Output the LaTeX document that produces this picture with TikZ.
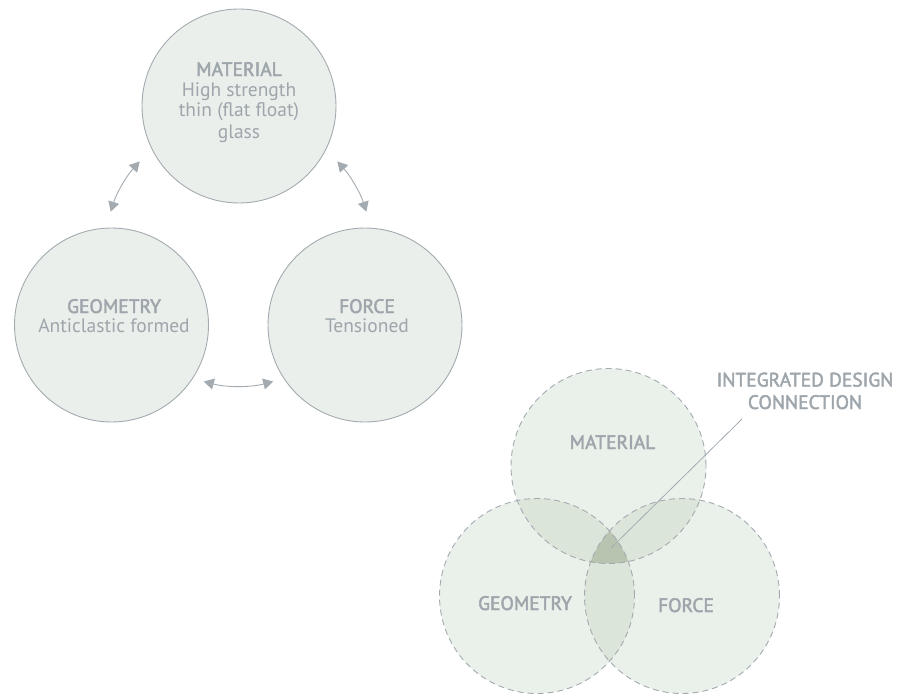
\documentclass[tikz,border=0pt]{standalone}
\usepackage{fontspec}
\setmainfont{PT Sans}
\newcommand\medfont{}
\newcommand\md[1]{\special{pdf:literal direct 2 Tr 0.45 w}#1\special{pdf:literal direct 0 Tr}}
\usetikzlibrary{arrows.meta}
\definecolor{ln}{HTML}{A3ABB1}
\definecolor{tx}{HTML}{9EA6AC}
\definecolor{cf}{HTML}{EBEFEB}
\definecolor{vf}{HTML}{EAF0EA}
\definecolor{pf}{HTML}{DCE5DA}
\definecolor{tf}{HTML}{B8C3B0}
\tikzset{
  bigcirc/.style={circle, draw=ln, fill=cf, line width=0.9pt, minimum size=194pt, inner sep=0pt},
  vcirc/.style={circle, fill=vf, minimum size=195pt, inner sep=0pt},
  vline/.style={draw=ln, line width=0.9pt, dash pattern=on 6pt off 4pt},
  lbl/.style={text=tx, align=center, font=\fontsize{19.5}{20}\selectfont, inner sep=0pt},
  arr/.style={draw=ln, line width=0.9pt, {Triangle[width=11pt,length=10pt]}-{Triangle[width=11pt,length=10pt]}},
  ptr/.style={draw=ln, line width=0.8pt}
}
\begin{document}
\begin{tikzpicture}[x=1pt,y=-1pt]
\useasboundingbox (0,0) rectangle (899,693);
% ---- left diagram ----
\node[bigcirc] (mat) at (239,106) {};
\node[bigcirc] (geo) at (111.5,325) {};
\node[bigcirc] (frc) at (365,325) {};
\node[lbl, anchor=base] (matt) at (239,138) {\md{MATERIAL}\\High strength\\thin (flat float)\\[2pt]glass};
\node[lbl, anchor=base, font=\fontsize{19.5}{19}\selectfont] (geot) at (114,332) {\md{GEOMETRY}\\Anticlastic formed};
\node[lbl, anchor=base, font=\fontsize{19.5}{19}\selectfont] (frct) at (367,332) {\md{FORCE}\\Tensioned};
\coordinate (ctr) at (238.5,252);
\draw[arr] ([shift={(42.5:134pt)}]ctr) arc[start angle=42.5, end angle=17.5, radius=134pt];
\draw[arr] ([shift={(137.5:134pt)}]ctr) arc[start angle=137.5, end angle=162.5, radius=134pt];
\draw[arr] ([shift={(-105:134pt)}]ctr) arc[start angle=-105, end angle=-75, radius=134pt];
% ---- venn ----
\node[vcirc] (vm) at (608.5,466) {};
\node[vcirc] (vg) at (537,596) {};
\node[vcirc] (vf) at (682,596) {};
\begin{scope}
  \clip (vm.center) circle[radius=97.5pt];
  \fill[pf] (vg.center) circle[radius=97.5pt];
  \fill[pf] (vf.center) circle[radius=97.5pt];
\end{scope}
\begin{scope}
  \clip (vg.center) circle[radius=97.5pt];
  \fill[pf] (vf.center) circle[radius=97.5pt];
\end{scope}
\begin{scope}
  \clip (vm.center) circle[radius=97.5pt];
  \clip (vg.center) circle[radius=97.5pt];
  \fill[tf] (vf.center) circle[radius=97.5pt];
\end{scope}
\draw[vline] (vm.center) circle[radius=97.5pt];
\draw[vline] (vg.center) circle[radius=97.5pt];
\draw[vline] (vf.center) circle[radius=97.5pt];
\node[lbl, anchor=base] (vmt) at (612.5,449) {\md{MATERIAL}};
\node[lbl, anchor=base] (vgt) at (525,610) {\md{GEOMETRY}};
\node[lbl, anchor=base] (vft) at (686,612) {\md{FORCE}};
\node[lbl, anchor=base, font=\fontsize{19.5}{22.5}\selectfont] (idc) at (805,409) {\md{INTEGRATED DESIGN}\\\md{CONNECTION}};
\coordinate (ptend) at (611,548);
\draw[ptr] (742,419) -- (ptend);
\end{tikzpicture}
\end{document}
